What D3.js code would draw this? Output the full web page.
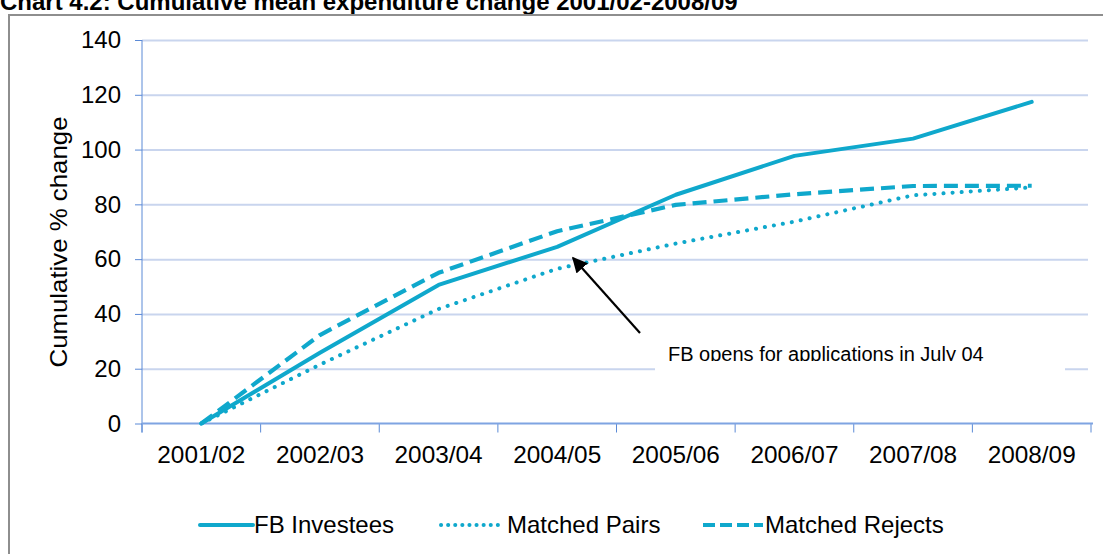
<!DOCTYPE html>
<html>
<head>
<meta charset="utf-8">
<script src="https://cdn.jsdelivr.net/npm/d3@7"></script>
<style>
  html, body { margin: 0; padding: 0; background: #fff; overflow: hidden; }
  svg { display: block; font-family: "Liberation Sans", Arial, sans-serif; }
</style>
</head>
<body>
<div id="chart"></div>
<script>
// Chart 4.2 — cumulative mean expenditure change, three comparison groups
const categories = ['2001/02', '2002/03', '2003/04', '2004/05', '2005/06', '2006/07', '2007/08', '2008/09'];
const fbInvestees    = [0, 25.8, 50.6, 64.5, 83.5, 97.7, 104.0, 117.4];
const matchedPairs   = [0, 21.5, 41.8, 56.5, 65.7, 73.7, 83.3, 86.2];
const matchedRejects = [0, 32.3, 55.0, 70.2, 79.8, 83.7, 86.7, 86.8];
const yTicks = [0, 20, 40, 60, 80, 100, 120, 140];
const seriesNames = ['FB Investees', 'Matched Pairs', 'Matched Rejects'];

const WIDTH = 1103, HEIGHT = 554;
const LINE = '#0fa8cc';
const GRID = '#c9d5ee';
const AXIS = '#5b8ad6';

const svg = d3.select('#chart').append('svg')
  .attr('width', WIDTH)
  .attr('height', HEIGHT);

// — frame + clipped title ——————————————————————————————
svg.append('text')
  .attr('x', 0).attr('y', 10)
  .attr('font-size', 24).attr('font-weight', 'bold')
  .attr('fill', '#000')
  .text('Chart 4.2: Cumulative mean expenditure change 2001/02-2008/09');

svg.append('rect')
  .attr('x', 9).attr('y', 15)
  .attr('width', WIDTH + 20).attr('height', HEIGHT + 20)
  .attr('fill', '#fff')
  .attr('stroke', '#8e8e8e').attr('stroke-width', 2);

// — scales ————————————————————————————————————————————————
const x = d3.scaleBand().domain(categories).range([142, 1091]);
const y = d3.scaleLinear().domain([0, 140]).range([423.5, 40]);
const cx = c => x(c) + x.bandwidth() / 2;

// gridlines
svg.append('g')
  .attr('transform', 'translate(142,0)')
  .call(d3.axisLeft(y).tickValues(yTicks.filter(v => v > 0)).tickSize(-(1088 - 142)).tickFormat(''))
  .call(g => g.select('.domain').remove())
  .call(g => g.selectAll('line').attr('stroke', GRID).attr('stroke-width', 2));

// y axis
svg.append('g')
  .attr('transform', 'translate(142,0)')
  .call(d3.axisLeft(y).tickValues(yTicks).tickSize(7).tickPadding(14))
  .call(g => g.select('.domain').attr('stroke', AXIS).attr('stroke-width', 1).attr('d', `M0,40V${423.5 + 9}`))
  .call(g => g.selectAll('line').attr('stroke', AXIS))
  .call(g => g.selectAll('text').attr('font-size', 24).attr('fill', '#000')
    .attr('font-family', '"Liberation Sans", Arial, sans-serif'));

// x axis: labels centred in bands, ticks on band edges
svg.append('g')
  .attr('transform', `translate(0,${y(0)})`)
  .call(d3.axisBottom(x).tickSize(0).tickPadding(22))
  .call(g => g.select('.domain').remove())
  .call(g => g.selectAll('text').attr('font-size', 24).attr('fill', '#000')
    .attr('font-family', '"Liberation Sans", Arial, sans-serif')
    .attr('textLength', 88).attr('lengthAdjust', 'spacingAndGlyphs'));

const edges = categories.map(c => x(c)).concat([x.range()[1]]);
svg.append('g').selectAll('line')
  .data(edges)
  .join('line')
  .attr('x1', d => d).attr('x2', d => d)
  .attr('y1', y(0)).attr('y2', y(0) + 9)
  .attr('stroke', AXIS).attr('stroke-width', 1);

svg.append('line')
  .attr('x1', 142).attr('x2', 1093)
  .attr('y1', y(0)).attr('y2', y(0))
  .attr('stroke', '#7fa4e2').attr('stroke-width', 2);

// y axis title
svg.append('text')
  .attr('transform', 'translate(67,242) rotate(-90)')
  .attr('text-anchor', 'middle')
  .attr('font-size', 24)
  .attr('textLength', 251).attr('lengthAdjust', 'spacingAndGlyphs')
  .text('Cumulative % change');

// — series ————————————————————————————————————————————————
const series = [
  { name: seriesNames[0], values: fbInvestees,    dash: null,    width: 4,   cap: 'round' },
  { name: seriesNames[1], values: matchedPairs,   dash: '0.1 9', width: 4,   cap: 'round' },
  { name: seriesNames[2], values: matchedRejects, dash: '14 7',  width: 4.2, cap: 'butt' },
];

const line = d3.line()
  .x((d, i) => cx(categories[i]))
  .y(d => y(d))
  .curve(d3.curveLinear);

svg.append('g').selectAll('path')
  .data(series)
  .join('path')
  .attr('d', d => line(d.values))
  .attr('fill', 'none')
  .attr('stroke', LINE)
  .attr('stroke-width', d => d.width)
  .attr('stroke-linecap', d => d.cap)
  .attr('stroke-linejoin', 'round')
  .attr('stroke-dasharray', d => d.dash);

// — annotation ————————————————————————————————————————————
svg.append('defs').append('marker')
  .attr('id', 'arrow')
  .attr('viewBox', '0 0 10 10')
  .attr('refX', 9).attr('refY', 5)
  .attr('markerWidth', 7).attr('markerHeight', 7)
  .attr('orient', 'auto')
  .append('path')
  .attr('d', 'M0,0L10,5L0,10z')
  .attr('fill', '#000');

svg.append('line')
  .attr('x1', 640).attr('y1', 333)
  .attr('x2', 573).attr('y2', 258)
  .attr('stroke', '#000').attr('stroke-width', 2.2)
  .attr('marker-end', 'url(#arrow)');

svg.select('defs').append('clipPath')
  .attr('id', 'noteClip')
  .append('rect')
  .attr('x', 655).attr('y', 336).attr('width', 410).attr('height', 25);

svg.append('rect')
  .attr('x', 655).attr('y', 336).attr('width', 410).attr('height', 38)
  .attr('fill', '#fff');

svg.append('text')
  .attr('clip-path', 'url(#noteClip)')
  .attr('x', 668).attr('y', 361)
  .attr('font-size', 20)
  .text('FB opens for applications in July 04');

// — legend ————————————————————————————————————————————————
const legendItems = [
  { x0: 200, x1: 253, tx: 254 },
  { x0: 441, x1: 500, tx: 507 },
  { x0: 703, x1: 763, tx: 765 },
];
const lg = svg.append('g').selectAll('g')
  .data(series)
  .join('g');

lg.append('line')
  .attr('x1', (d, i) => legendItems[i].x0)
  .attr('x2', (d, i) => legendItems[i].x1)
  .attr('y1', 525).attr('y2', 525)
  .attr('stroke', LINE)
  .attr('stroke-width', d => d.width)
  .attr('stroke-linecap', d => d.cap)
  .attr('stroke-dasharray', (d, i) => i === 1 ? '0.1 7' : i === 2 ? '12 5' : null);

lg.append('text')
  .attr('x', (d, i) => legendItems[i].tx)
  .attr('y', 533)
  .attr('font-size', 24)
  .text(d => d.name);
</script>
</body>
</html>
